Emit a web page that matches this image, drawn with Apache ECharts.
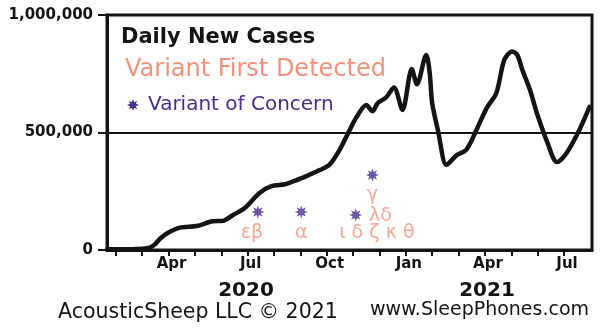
<!DOCTYPE html>
<html>
<head>
<meta charset="utf-8">
<script src="https://cdn.jsdelivr.net/npm/echarts@6/dist/echarts.min.js"></script>
<style>
  html, body { margin: 0; padding: 0; background: #fff; }
  #chart { width: 600px; height: 330px; }
</style>
</head>
<body>
<div id="chart"></div>
<script>
// Daily new cases (7-day average, worldwide), sampled along the curve
const dates = [
  '2020-01-22', '2020-02-05', '2020-02-19', '2020-03-01', '2020-03-10', '2020-03-16',
  '2020-03-22', '2020-03-31', '2020-04-14', '2020-05-03', '2020-05-22', '2020-06-03',
  '2020-06-14', '2020-06-28', '2020-07-15', '2020-07-29', '2020-08-14', '2020-08-25',
  '2020-09-06', '2020-09-23', '2020-10-04', '2020-10-16', '2020-10-28', '2020-11-05',
  '2020-11-16', '2020-11-23', '2020-11-29', '2020-12-09', '2020-12-18', '2020-12-28',
  '2021-01-08', '2021-01-14', '2021-01-25', '2021-01-29', '2021-02-01', '2021-02-07',
  '2021-02-16', '2021-02-22', '2021-02-27', '2021-03-10', '2021-03-22', '2021-04-03',
  '2021-04-14', '2021-04-23', '2021-05-02', '2021-05-08', '2021-05-14', '2021-05-23',
  '2021-05-31', '2021-06-11', '2021-06-23', '2021-07-04', '2021-07-19', '2021-07-31'
];
const dailyCases = [
  3000, 3000, 3000, 5000, 10000, 24000,
  48000, 72000, 95000, 102000, 122000, 124000,
  148000, 180000, 243000, 272000, 280000, 294000,
  311000, 340000, 362000, 425000, 511000, 566000,
  617000, 590000, 625000, 650000, 692000, 596000,
  770000, 705000, 830000, 755000, 625000, 511000,
  362000, 383000, 404000, 426000, 511000, 604000,
  668000, 809000, 845000, 830000, 766000, 681000,
  583000, 468000, 374000, 413000, 511000, 609000
];

// Variants: first-detected labels and variants of concern
const variantNames = ['εβ', 'α', 'ι δ ζ κ θ', 'λδ', 'γ'];
const variantDates = ['2020-07-06', '2020-09-02', '2020-11-28', '2020-12-02', '2020-11-23'];
const variantLevels = [72000, 72000, 72000, 145000, 234000];
const concernDates = ['2020-07-13', '2020-09-02', '2020-11-04', '2020-11-23'];
const concernLevels = [162000, 162000, 149000, 319000];

// Axis ticks (months since Jan 2020) and their labels
const monthTicks = [1, 2, 3, 4, 5, 6, 7, 8, 9, 10, 11, 12, 13, 14, 15, 16, 17, 18];
const labelMonths = [3, 6, 9, 12, 15, 18];
const labelNames = ['Apr', 'Jul', 'Oct', 'Jan', 'Apr', 'Jul'];
const yearNames = ['2020', '2021'];
const yTicks = [0, 500000, 1000000];

const INK = '#141414';
const SALMON = '#F4917A';
const PURPLE = '#4A2B8E';
const FONT = '"DejaVu Sans", sans-serif';

// Eight-spike burst used for the "variant of concern" marks
function burstPoints(cx, cy, r) {
  const pts = [];
  for (let k = 0; k < 16; k++) {
    const a = -Math.PI / 2 + k * Math.PI / 8;
    const rr = k % 2 === 0 ? r : r * 0.5;
    pts.push([cx + rr * Math.cos(a), cy + rr * Math.sin(a)]);
  }
  return pts;
}
const BURST = 'path://' + burstPoints(10, 10, 10)
  .map((p, i) => (i ? 'L' : 'M') + p[0].toFixed(2) + ' ' + p[1].toFixed(2)).join(' ') + ' Z';

// Fractional month index counted from 1 Jan 2020
function monthIndex(s) {
  const [y, m, d] = s.split('-').map(Number);
  const dim = new Date(y, m, 0).getDate();
  return (y - 2020) * 12 + (m - 1) + (d - 1) / dim;
}

const lineData = dates.map((d, i) => [monthIndex(d), dailyCases[i]]);
const variantData = variantNames.map((n, i) => ({ name: n, value: [monthIndex(variantDates[i]), variantLevels[i]] }));
const concernData = concernDates.map((d, i) => [monthIndex(d), concernLevels[i]]);

const chart = echarts.init(document.getElementById('chart'), null, { renderer: 'canvas' });

function txt(text, x, y, font, fill, align) {
  return {
    type: 'text', x: x, y: y, z: 10,
    style: {
      text: text, font: font, fill: fill,
      align: align || 'left', verticalAlign: 'middle',
      textAlign: align || 'left', textVerticalAlign: 'middle'
    }
  };
}

chart.setOption({
  animation: false,
  backgroundColor: '#fff',
  grid: {
    left: 107, right: 8, top: 15, bottom: 80,
    show: true, borderColor: INK, borderWidth: 3, backgroundColor: 'transparent'
  },
  xAxis: {
    type: 'value',
    min: 0.667, max: 19.06,
    axisLine: { show: true, lineStyle: { color: INK, width: 3 } },
    axisTick: { show: true, customValues: monthTicks, length: 6, lineStyle: { color: INK, width: 2 } },
    axisLabel: {
      show: true, customValues: labelMonths, margin: 7,
      padding: [0, 0, 0, 6],
      formatter: v => labelNames[labelMonths.indexOf(Math.round(v))] || '',
      fontFamily: FONT, fontWeight: 'bold', fontSize: 15, color: INK
    },
    splitLine: { show: false }
  },
  yAxis: {
    type: 'value',
    min: 0, max: 1000000, interval: 500000,
    axisLine: { show: true, lineStyle: { color: INK, width: 3 } },
    axisTick: { show: true, length: 9, lineStyle: { color: INK, width: 2 } },
    axisLabel: {
      margin: 14,
      formatter: v => yTicks.indexOf(v) >= 0 ? v.toLocaleString('en-US') : '',
      fontFamily: FONT, fontWeight: 'bold', fontSize: 15, color: INK
    },
    splitLine: { show: true, lineStyle: { color: INK, width: 2 } }
  },
  series: [
    {
      name: 'Daily New Cases',
      type: 'line',
      data: lineData,
      smooth: 0.3,
      symbol: 'none',
      lineStyle: { color: INK, width: 4.5, cap: 'round', join: 'round' },
      z: 5
    },
    {
      name: 'Variant First Detected',
      type: 'scatter',
      data: variantData,
      symbolSize: 0,
      label: {
        show: true, position: 'inside',
        formatter: p => p.name,
        fontFamily: FONT, fontSize: 19, color: SALMON
      },
      z: 6
    },
    {
      name: 'Variant of Concern',
      type: 'scatter',
      data: concernData,
      symbol: BURST,
      symbolSize: 13,
      itemStyle: { color: PURPLE },
      z: 6
    }
  ],
  graphic: [
    txt('Daily New Cases', 121, 38, 'bold 21px ' + FONT, INK),
    txt('Variant First Detected', 125, 70, '24px ' + FONT, SALMON),
    {
      type: 'polygon', z: 10,
      shape: { points: burstPoints(133, 105, 6) },
      style: { fill: PURPLE }
    },
    txt('Variant of Concern', 148, 105, '20px ' + FONT, PURPLE),
    txt(yearNames[0], 246, 291, 'bold 20px ' + FONT, INK, 'center'),
    txt(yearNames[1], 487, 291, 'bold 20px ' + FONT, INK, 'center'),
    txt('AcousticSheep LLC © 2021', 58, 313, '20.5px ' + FONT, INK),
    txt('www.SleepPhones.com', 370, 310, '19px ' + FONT, INK)
  ]
});
</script>
</body>
</html>
